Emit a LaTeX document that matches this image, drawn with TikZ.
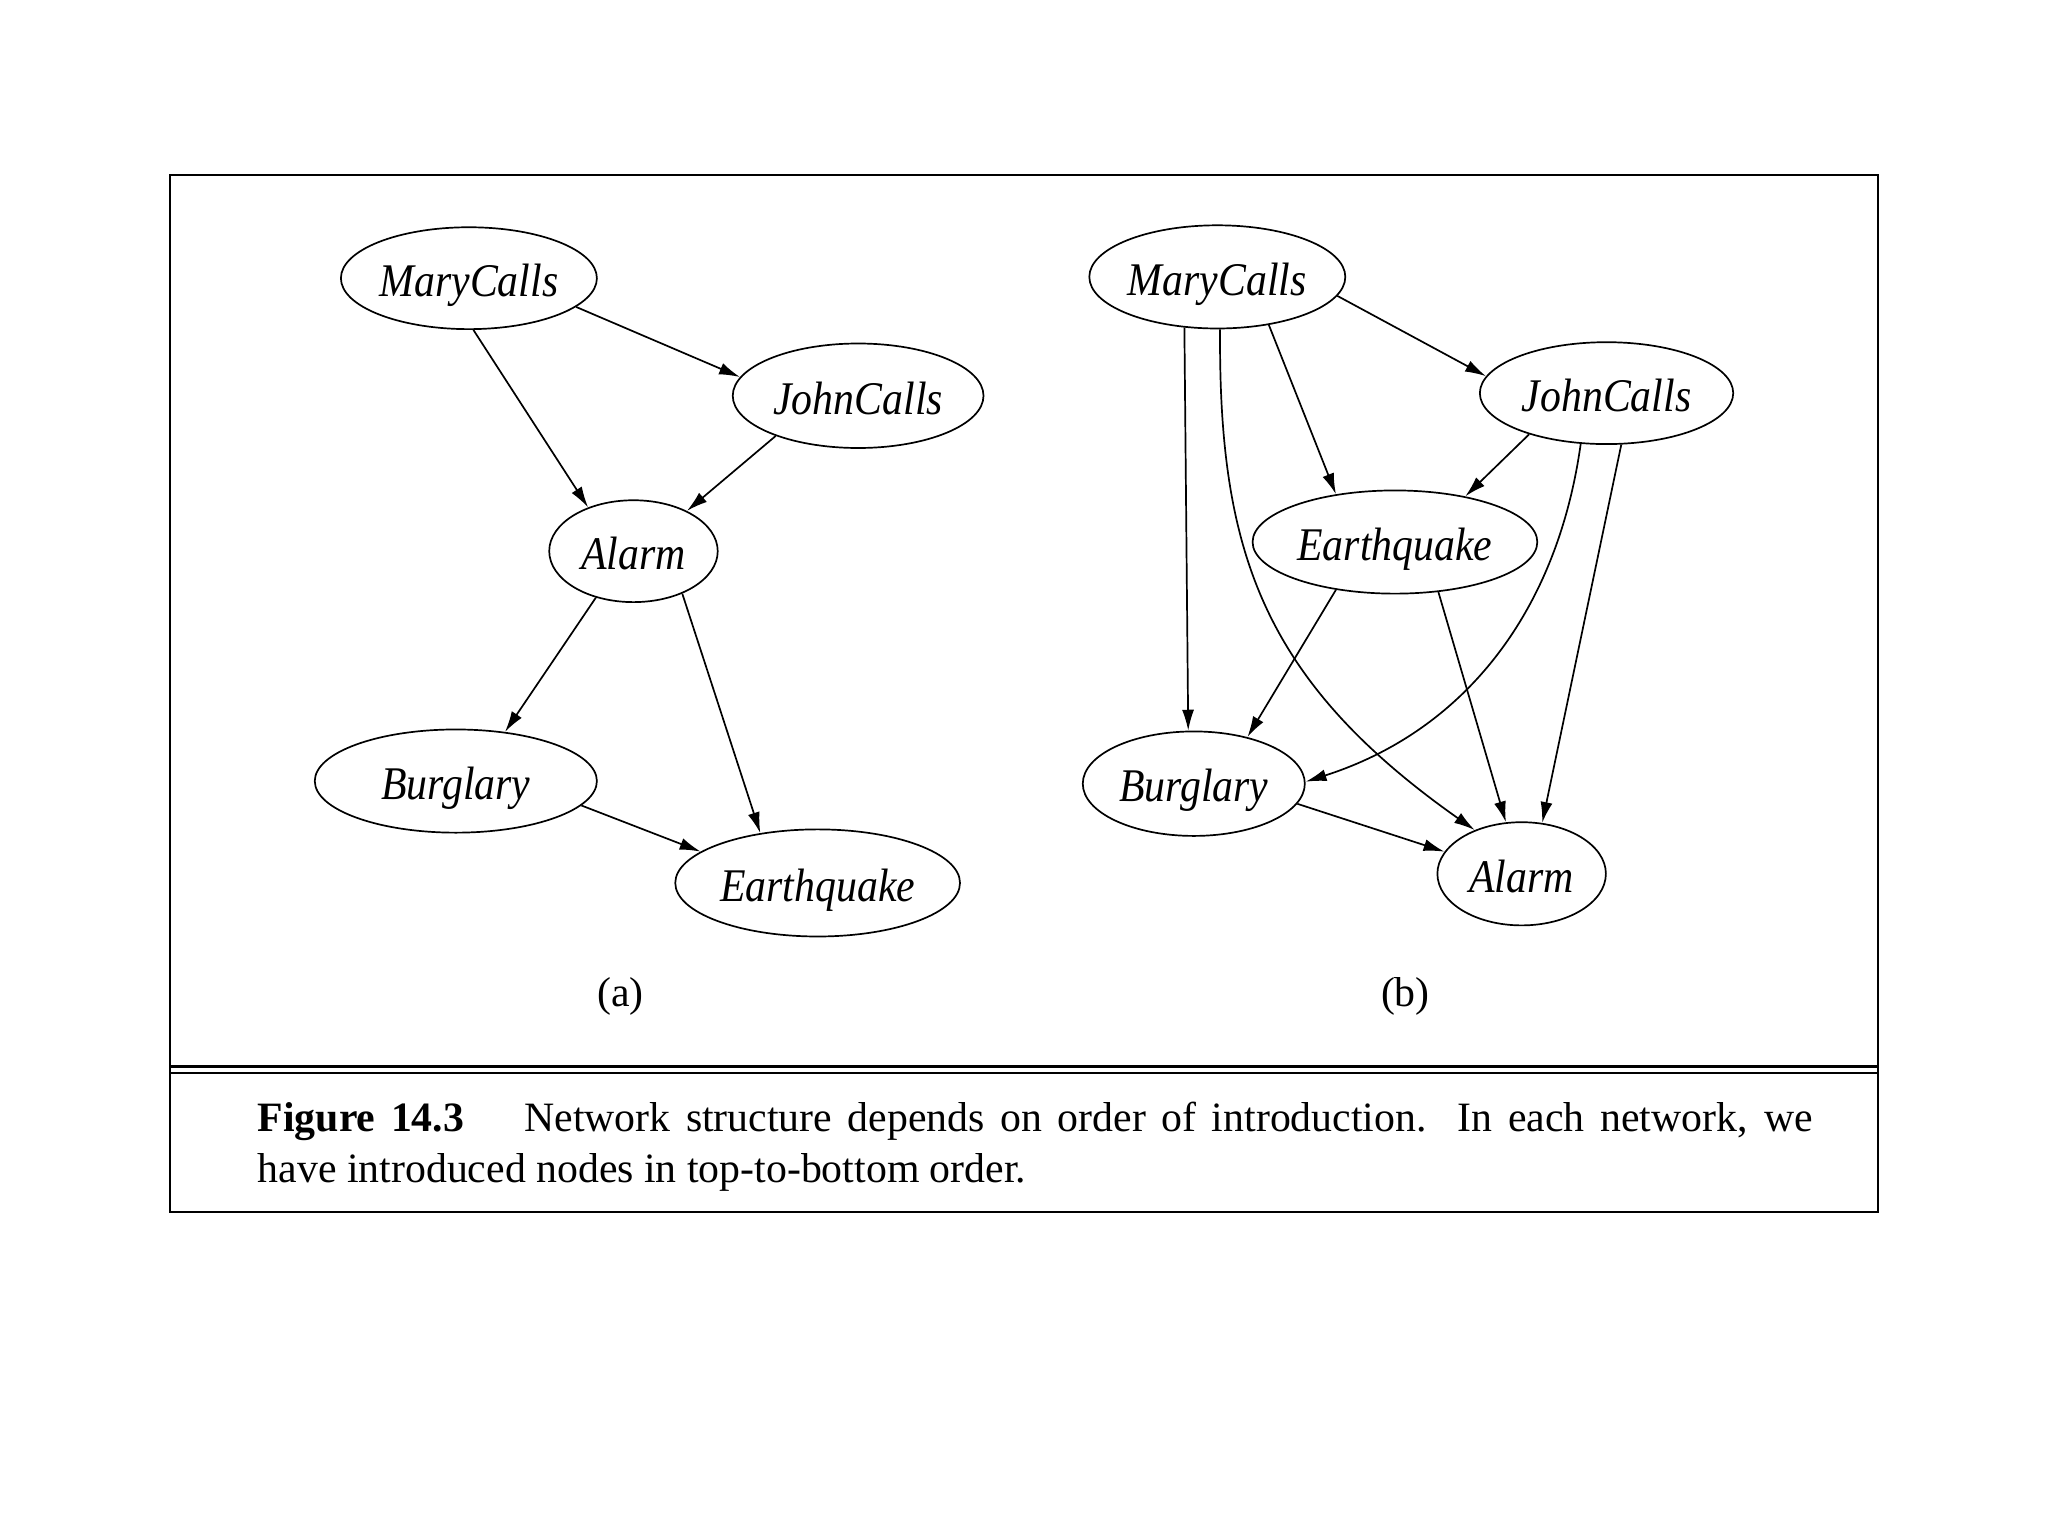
\documentclass[tikz,border=0pt]{standalone}
\usepackage{fontspec}
\setmainfont{Liberation Serif}
\usetikzlibrary{shapes.geometric,arrows.meta}
\newcommand{\nt}[1]{\scalebox{1}[1.12]{\itshape #1}}
\begin{document}
\begin{tikzpicture}[x=0.5pt,y=-0.5pt,
  bn/.style={draw,ellipse,inner sep=0pt,line width=0.65pt,text height=17pt,text depth=3pt,font=\fontsize{16}{19}\selectfont},
  edge/.style={line width=0.65pt,-{Latex[length=8pt,width=4.6pt]}},
  frame/.style={line width=0.8pt}]
\useasboundingbox (0,0) rectangle (1568,1176);
\fill[white] (0,0) rectangle (1568,1176);
% frame
\draw[frame] (130,134) rectangle (1438,928);
\coordinate (dl1) at (130,816.5); \coordinate (dr1) at (1438,816.5);
\coordinate (dl2) at (130,821.5); \coordinate (dr2) at (1438,821.5);
\draw[frame] (dl1) -- (dr1);
\draw[frame] (dl2) -- (dr2);
% panel (a)
\node[bn,minimum width=98pt,minimum height=39pt] (mca) at (359,213) {\nt{MaryCalls}};
\node[bn,minimum width=96pt,minimum height=40pt] (jca) at (657,303) {\nt{JohnCalls}};
\node[bn,minimum width=64.5pt,minimum height=39pt] (ala) at (485,422) {\nt{Alarm}};
\node[bn,minimum width=108pt,minimum height=39.5pt] (bua) at (349,598) {\nt{Burglary}};
\node[bn,minimum width=109pt,minimum height=41pt] (eqa) at (626,676) {\nt{Earthquake}};
\node[font=\fontsize{16}{19}\selectfont] (la) at (475,763) {(a)};
\draw[edge] (mca.-15) -- (jca.171.5);
\draw[edge] (mca.-85.6) -- (ala.136);
\draw[edge] (jca.206.6) -- (ala.37.7);
\draw[edge] (ala.231.7) -- (bua.45);
\draw[edge] (ala.-41.9) -- (eqa.139.6);
\draw[edge] (bua.-11.8) -- (eqa.165.8);
% panel (b)
\node[bn,minimum width=98pt,minimum height=39.5pt] (mcb) at (932,212) {\nt{MaryCalls}};
\node[bn,minimum width=97pt,minimum height=39pt] (jcb) at (1230,301) {\nt{JohnCalls}};
\node[bn,minimum width=109pt,minimum height=39.5pt] (eqb) at (1068,415) {\nt{Earthquake}};
\node[bn,minimum width=85pt,minimum height=40pt] (bub) at (914,600) {\nt{Burglary}};
\node[bn,minimum width=64.5pt,minimum height=39.5pt] (alb) at (1165,669) {\nt{Alarm}};
\node[font=\fontsize{16}{19}\selectfont] (lb) at (1076,763) {(b)};
\draw[edge] (mcb.-9.8) -- (jcb.172);
\draw[edge] (mcb.237.3) -- (bub.96.8);
\draw[edge] (mcb.-87) .. controls (933,420) and (965,520) .. (alb.137.2);
\draw[edge] (mcb.-43.5) -- (eqb.141.6);
\draw[edge] (jcb.208) -- (eqb.33);
\draw[edge] (jcb.243.4) .. controls (1192,470) and (1120,560) .. (bub.1.3);
\draw[edge] (jcb.-74.6) -- (alb.68);
\draw[edge] (eqb.219) -- (bub.41);
\draw[edge] (eqb.-49.6) -- (alb.107.2);
\draw[edge] (bub.-11.9) -- (alb.164.7);
% caption
\node[anchor=base west,inner sep=0pt,text width=595.5pt,align=justify,
  font=\fontsize{16}{19.5}\selectfont] (cap) at (197,866)
  {\textbf{Figure 14.3}\hspace{23pt}Network structure depends on order of introduction.\ \ In each network, we\linebreak have introduced nodes in top-to-bottom order.};
\end{tikzpicture}
\end{document}
